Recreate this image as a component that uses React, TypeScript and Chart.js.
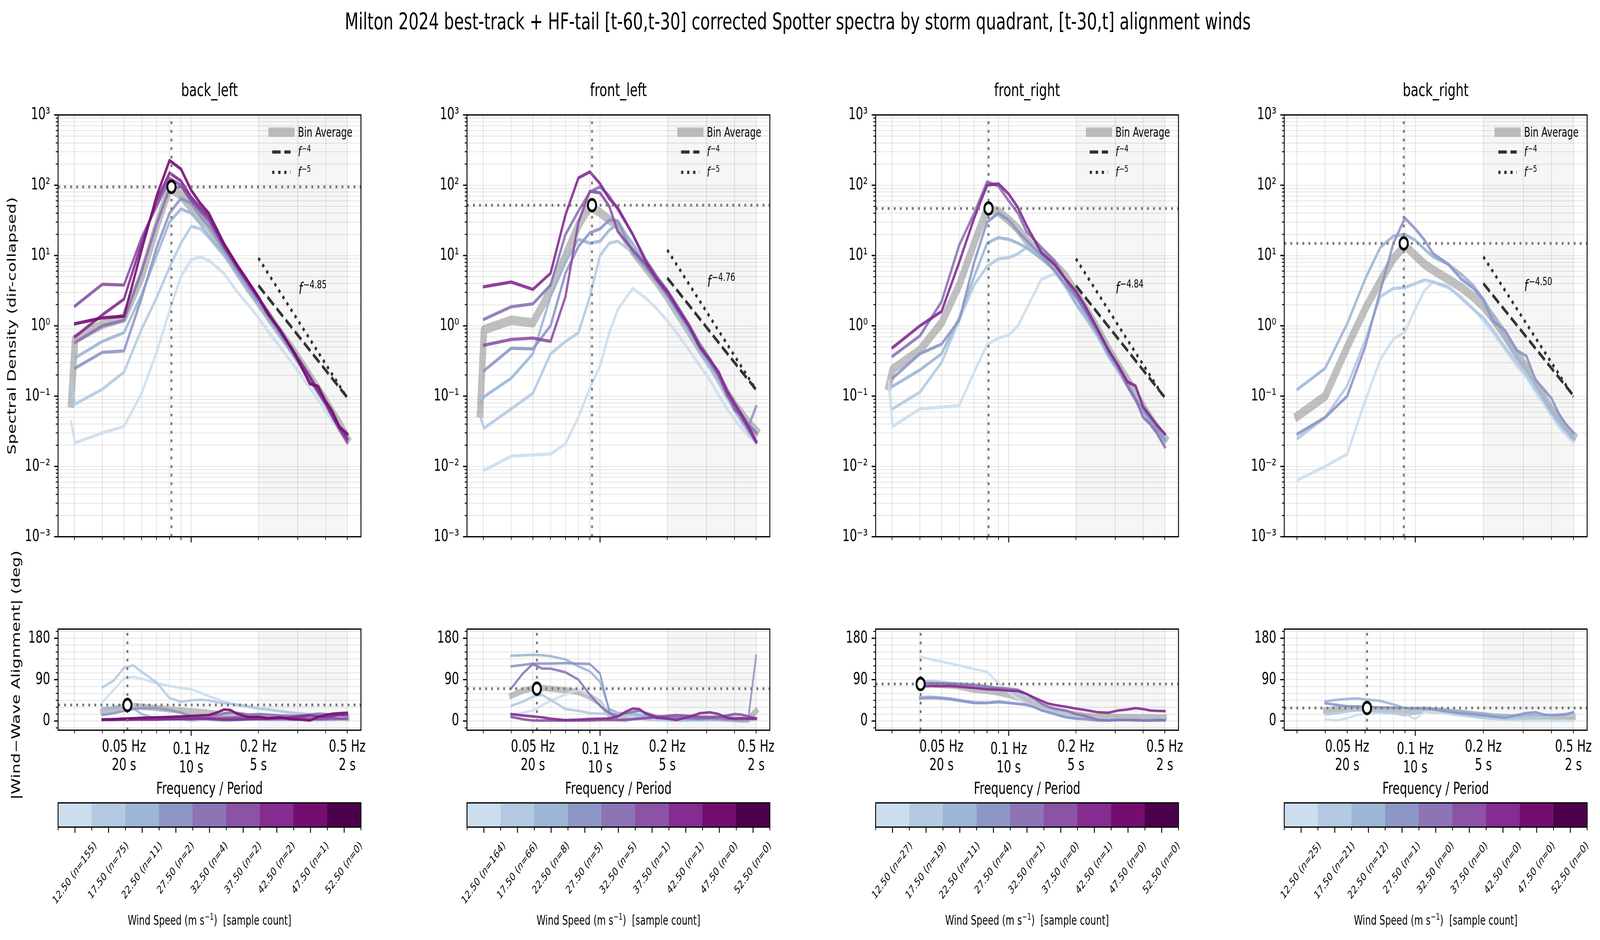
import React, { useEffect, useRef } from 'react';
import { Chart, registerables } from 'chart.js';

Chart.register(...registerables);

const FONT = "'DejaVu Sans', 'Liberation Sans', sans-serif";
Chart.defaults.font.family = FONT;
Chart.defaults.color = '#000';

// ---------------- frequency grids (Hz) ----------------
const FREQ = [0.029, 0.0302, 0.04, 0.05, 0.06, 0.07, 0.08, 0.09, 0.1, 0.11, 0.12, 0.14, 0.16, 0.18, 0.2, 0.22, 0.25, 0.28, 0.31, 0.34, 0.37, 0.4, 0.43, 0.46, 0.5];
const FREQ_ALIGN = [0.04, 0.045, 0.05, 0.055, 0.06, 0.07, 0.08, 0.09, 0.1, 0.11, 0.12, 0.13, 0.14, 0.15, 0.16, 0.18, 0.2, 0.22, 0.25, 0.28, 0.31, 0.34, 0.37, 0.4, 0.43, 0.46, 0.5];

// ---------------- wind-speed bins ----------------
const WIND_BINS = [12.5, 17.5, 22.5, 27.5, 32.5, 37.5, 42.5, 47.5, 52.5];
const BIN_COLORS = ['#ccdeed', '#b3cae2', '#9cb6d6', '#8d97c6', '#8c74b5', '#8c52a5', '#842c90', '#750d70', '#4d004b'];

const QUADRANTS = ['back_left', 'front_left', 'front_right', 'back_right'];
const COUNTS_BACK_LEFT = [155, 75, 11, 2, 4, 2, 2, 1, 0];
const COUNTS_FRONT_LEFT = [164, 66, 8, 5, 5, 1, 1, 0, 0];
const COUNTS_FRONT_RIGHT = [27, 19, 11, 4, 1, 0, 1, 0, 0];
const COUNTS_BACK_RIGHT = [25, 21, 12, 1, 0, 0, 0, 0, 0];

// ---------------- spectra: back_left ----------------
const BL_SPEC_AVG = [0.08, 0.65, 1.05, 1.3, 5, 26, 92, 72, 48, 36, 26, 12, 6.2, 3.5, 2.2, 1.43, 0.8, 0.49, 0.3, 0.19, 0.125, 0.085, 0.057, 0.041, 0.025];
const BL_SPEC_12 = [0.043, 0.0216, 0.03, 0.037, 0.11, 0.42, 1.66, 5.0, 8.7, 9.6, 8.5, 5.6, 3.1, 2.0, 1.3, 0.85, 0.5, 0.31, 0.2, 0.13, 0.088, 0.061, 0.044, 0.032, 0.022];
const BL_SPEC_17 = [0.15, 0.077, 0.125, 0.22, 0.9, 2.5, 6.8, 15, 26, 24, 18, 10, 5.6, 3.4, 2.1, 1.3, 0.72, 0.42, 0.26, 0.165, 0.11, 0.075, 0.052, 0.036, 0.023];
const BL_SPEC_22 = [null, 0.35, 0.6, 0.8, 2.8, 10, 30, 46, 40, 28, 19, 10.5, 5.6, 3.3, 2.0, 1.3, 0.72, 0.42, 0.26, 0.17, 0.115, 0.078, 0.053, 0.037, 0.024];
const BL_SPEC_27 = [null, 0.25, 0.42, 0.44, 2.5, 13, 40, 65, 55, 36, 26, 12, 6.2, 3.6, 2.2, 1.4, 0.78, 0.45, 0.28, 0.18, 0.12, 0.08, 0.055, 0.038, 0.025];
const BL_SPEC_32 = [null, 0.58, 1.0, 1.2, 6, 28, 90, 95, 62, 42, 31, 13, 6.8, 3.9, 2.4, 1.5, 0.82, 0.47, 0.28, 0.18, 0.118, 0.08, 0.055, 0.038, 0.024];
const BL_SPEC_37 = [null, 1.92, 3.9, 3.8, 18, 50, 125, 100, 60, 44, 33, 13.5, 7, 4.0, 2.45, 1.55, 0.84, 0.48, 0.29, 0.18, 0.115, 0.078, 0.05, 0.034, 0.022];
const BL_SPEC_42 = [null, 0.7, 1.43, 2.4, 15, 60, 150, 115, 68, 48, 36, 14, 7.2, 4.2, 2.5, 1.6, 0.85, 0.5, 0.3, 0.19, 0.12, 0.08, 0.052, 0.036, 0.025];
const BL_SPEC_47 = [null, 1.07, 1.3, 1.37, 12, 70, 225, 170, 85, 55, 40, 15, 7.5, 4.3, 2.6, 1.5, 0.88, 0.49, 0.27, 0.15, 0.138, 0.085, 0.06, 0.037, 0.029];

// ---------------- spectra: front_left ----------------
const FL_SPEC_AVG = [0.058, 0.88, 1.2, 1.1, 3.2, 10, 27, 50, 41, 32, 27, 11.7, 6.8, 4.2, 2.6, 1.6, 0.85, 0.47, 0.29, 0.18, 0.11, 0.075, 0.056, 0.042, 0.032];
const FL_SPEC_12 = [null, 0.0088, 0.014, 0.0146, 0.015, 0.021, 0.05, 0.13, 0.27, 0.8, 1.7, 3.4, 2.5, 1.74, 1.18, 0.8, 0.45, 0.27, 0.17, 0.103, 0.066, 0.047, 0.035, 0.027, 0.022];
const FL_SPEC_17 = [0.052, 0.035, 0.066, 0.11, 0.4, 0.6, 0.8, 2.6, 10, 15, 16, 11, 6.8, 4.2, 2.5, 1.55, 0.8, 0.42, 0.25, 0.16, 0.095, 0.062, 0.043, 0.031, 0.022];
const FL_SPEC_22 = [0.078, 0.098, 0.18, 0.4, 2.6, 8, 17, 15, 16, 23, 28, 15, 7.5, 4.2, 2.6, 1.6, 0.85, 0.44, 0.27, 0.17, 0.1, 0.065, 0.045, 0.032, 0.022];
const FL_SPEC_27 = [null, 0.23, 0.48, 0.47, 1.0, 5.6, 13.5, 21, 24, 32, 31, 11, 6.8, 4.2, 2.7, 1.7, 0.9, 0.48, 0.3, 0.19, 0.11, 0.07, 0.05, 0.036, 0.071];
const FL_SPEC_32 = [null, 1.24, 1.87, 2.05, 3.8, 20, 43, 80, 95, 70, 45, 20, 8.8, 5, 3.2, 2.0, 1.05, 0.55, 0.34, 0.21, 0.12, 0.063, 0.055, 0.04, 0.03];
const FL_SPEC_37 = [null, 0.53, 0.64, 0.67, 0.6, 2.6, 30, 82, 78, 50, 22, 12, 7.5, 4.5, 2.9, 1.8, 0.98, 0.5, 0.32, 0.2, 0.105, 0.072, 0.05, 0.035, 0.022];
const FL_SPEC_42 = [null, 3.6, 4.2, 3.3, 5.6, 38, 127, 155, 105, 64, 48, 20, 8.3, 4.6, 3.1, 1.9, 1.0, 0.5, 0.33, 0.22, 0.12, 0.08, 0.055, 0.038, 0.023];

// ---------------- spectra: front_right ----------------
const FR_SPEC_AVG = [0.14, 0.24, 0.45, 1.1, 3.8, 15, 46, 42, 32, 24, 16.5, 10, 7.5, 5.1, 2.9, 1.8, 0.9, 0.46, 0.27, 0.17, 0.105, 0.07, 0.048, 0.035, 0.025];
const FR_SPEC_12 = [0.16, 0.037, 0.066, 0.07, 0.073, 0.22, 0.54, 0.67, 0.74, 1.0, 1.74, 4.6, 5.5, 4.2, 2.6, 1.5, 0.7, 0.4, 0.24, 0.15, 0.095, 0.065, 0.045, 0.033, 0.022];
const FR_SPEC_17 = [null, 0.066, 0.114, 0.3, 1.2, 3.8, 7, 9, 9.3, 10.6, 13, 10, 6, 3.5, 2.0, 1.3, 0.7, 0.36, 0.22, 0.135, 0.085, 0.058, 0.042, 0.031, 0.022];
const FR_SPEC_22 = [null, 0.138, 0.236, 0.4, 1.3, 5, 15, 18, 17, 15, 13, 9, 6.2, 3.8, 2.1, 1.4, 0.75, 0.38, 0.23, 0.14, 0.09, 0.06, 0.045, 0.033, 0.023];
const FR_SPEC_27 = [null, 0.18, 0.4, 0.55, 1.2, 8, 30, 40, 32, 22, 16.5, 10, 6.2, 3.8, 2.6, 1.6, 0.8, 0.4, 0.25, 0.15, 0.093, 0.063, 0.047, 0.035, 0.024];
const FR_SPEC_32 = [null, 0.37, 0.72, 2.2, 14, 40, 112, 97, 60, 40, 22, 13, 8.5, 4.5, 2.7, 1.7, 0.85, 0.45, 0.26, 0.14, 0.09, 0.05, 0.04, 0.03, 0.019];
const FR_SPEC_42 = [null, 0.49, 1.0, 1.6, 8, 34, 100, 105, 75, 48, 27, 11, 7.5, 4.6, 3.1, 1.9, 0.9, 0.45, 0.27, 0.16, 0.14, 0.07, 0.052, 0.039, 0.029];

// ---------------- spectra: back_right ----------------
const BR_SPEC_AVG = [null, 0.052, 0.1, 0.5, 1.74, 4.3, 9, 14, 10, 7.5, 6.2, 4.6, 3.5, 2.6, 1.9, 1.3, 0.72, 0.4, 0.25, 0.15, 0.095, 0.063, 0.047, 0.035, 0.027];
const BR_SPEC_12 = [null, 0.0064, 0.01, 0.015, 0.085, 0.33, 0.65, 0.82, 1.74, 3.2, 4.2, 3.45, 2.6, 1.74, 1.18, 0.8, 0.45, 0.27, 0.185, 0.114, 0.077, 0.052, 0.037, 0.029, 0.022];
const BR_SPEC_17 = [null, 0.025, 0.05, 0.14, 0.62, 2.6, 3.4, 3.5, 4, 4.5, 4.2, 3.6, 2.45, 1.74, 1.3, 0.88, 0.49, 0.3, 0.2, 0.125, 0.085, 0.057, 0.04, 0.032, 0.024];
const BR_SPEC_22 = [null, 0.125, 0.25, 1.07, 4.6, 13, 19, 20, 16.5, 12.3, 9.6, 7.5, 5.4, 3.8, 2.4, 1.45, 0.68, 0.37, 0.24, 0.145, 0.093, 0.06, 0.045, 0.034, 0.025];
const BR_SPEC_27 = [null, 0.029, 0.05, 0.1, 0.5, 3.1, 15, 34, 24, 16.5, 10.6, 7.5, 4.6, 3.45, 2.33, 1.18, 0.85, 0.45, 0.37, 0.17, 0.125, 0.093, 0.057, 0.041, 0.03];

// ---------------- alignment (deg): back_left ----------------
const BL_ALIGN_AVG = [21, 26, 32, 33, 31, 28, 25, 23, 21, 20, 18, 16, 14, 13, 12, 10, 9, 8, 7.5, 7, 7, 7, 7.5, 8, 8, 8, 7];
const BL_ALIGN_12 = [41, 68, 92, 96, 92, 82, 76, 72, 69, 62, 54, 48, 42, 39, 36, 33, 28, 26, 22, 19, 17, 15, 13.5, 12, 11.5, 10.5, 9];
const BL_ALIGN_17 = [73, 88, 116, 121, 107, 84, 50, 42, 45, 46, 45, 41, 39, 37, 35, 31, 27, 25, 21, 18, 16, 14, 12, 11, 10, 9, 8];
const BL_ALIGN_22 = [28, 29, 30, 28, 15, 5, 3, 4, 1, 3, 4, 2, 1, 1, 2, 3, 4, 3, 3, 2, 3, 2, 2, 3, 2, 3, 4];
const BL_ALIGN_27 = [13, 17, 22, 26, 28, 28, 24, 18, 11, 6, 3, 2, 2, 3, 4, 5, 4, 3, 3, 4, 5, 4, 4, 3, 4, 5, 4];
const BL_ALIGN_32 = [4, 4, 5, 6, 6, 7, 8, 8, 9, 9, 10, 12, 16, 19, 18, 14, 15, 14, 12, 11, 12, 14, 16, 15, 14, 13, 11];
const BL_ALIGN_37 = [2, 2, 3, 3, 4, 4, 5, 5, 6, 6, 6, 6, 7, 7, 8, 8, 9, 7, 6, 5, 6, 5, 4, 5, 6, 5, 5];
const BL_ALIGN_42 = [3, 3, 3, 3, 3, 3, 4, 4, 4, 5, 5, 4, 3, 3, 3, 4, 4, 5, 6, 8, 10, 12, 10, 9, 11, 13, 14];
const BL_ALIGN_47 = [3, 4, 5, 6, 7, 8, 9, 10, 11, 12, 13, 18, 25, 24, 16, 8.5, 9, 6, 8, 4, 3, 1, 9, 13, 16, 17, 18];

// ---------------- alignment (deg): front_left ----------------
const FL_ALIGN_AVG = [55, 66, 71, 72, 70, 67, 63, 53, 39, 13, 8, 8, 8, 8, 8, 7, 6, 6, 6, 6, 6, 6, 5, 4, 3, 3, 22];
const FL_ALIGN_12 = [13, 18, 23, 34, 44, 58, 68, 56, 40, 22, 15, 12, 8, 5, 3, 2, 1, 1, 1, 2, 2, 2, 2, 3, 3, 3, 3];
const FL_ALIGN_17 = [33, 42, 53, 57, 46, 26, 22, 17, 16, 15, 14, 13, 12, 9, 3, 2, 1, 1, 1, 2, 2, 3, 3, 4, 3, 2, 3];
const FL_ALIGN_22 = [142, 143, 144, 143, 141, 134, 119, 108, 85, 26, 18, 17, 16, 14, 12, 8, 5, 4, 3, 2, 3, 3, 2, 2, 3, 3, 4];
const FL_ALIGN_27 = [119, 122, 125, 125, 125, 126, 125, 124, 103, 20, 2, 1, 4, 6, 8, 7, 6, 8, 6, 5, 6, 4, 3, 3, 2, 2, 142];
const FL_ALIGN_32 = [71, 103, 124, 114, 114, 106, 90, 57, 33, 17, 11, 17, 20, 22, 18, 10, 7.5, 7, 6, 5, 6, 7, 5, 4, 4, 5, 6];
const FL_ALIGN_37 = [9, 4, 1, 1, 1, 1, 1, 1, 2, 2, 2, 3, 4, 5, 6, 9, 11, 13, 11, 9, 8, 9, 12, 15, 14, 10, 6];
const FL_ALIGN_42 = [15, 12, 10, 8, 5, 2, 3, 4.4, 5, 5.4, 10, 20, 27, 26, 16, 7, 5, 2, 9, 17, 19, 15, 7, 5, 6, 5, 5];

// ---------------- alignment (deg): front_right ----------------
const FR_ALIGN_AVG = [81, 80, 78, 77, 75, 68, 65.5, 62, 56.5, 51, 46, 41, 33, 27, 23, 18, 14, 11.3, 8.8, 8.8, 8.5, 8.5, 8, 8, 8, 7.5, 7.5];
const FR_ALIGN_12 = [140, 134, 129, 125, 121, 113, 107, 82, 62, 48, 38, 31, 26, 21, 17, 12, 9, 7, 5, 4, 4, 4, 4, 4, 5, 5, 6];
const FR_ALIGN_17 = [86, 87, 85, 83, 82, 80, 76, 71, 67, 60, 52, 45, 38, 30, 24, 14, 9, 7, 5, 4, 4, 4, 5, 5, 5, 5, 5];
const FR_ALIGN_22 = [52, 53, 51, 49, 46, 41, 40, 43, 40, 38, 36, 31, 24, 20, 16.5, 9, 6, 5, 2, 3, 4, 4, 4, 3, 4, 4, 4];
const FR_ALIGN_27 = [49, 50, 49, 47, 44, 39, 39, 41, 39, 37, 35, 30, 23, 19, 15, 8, 5, 4, 1, 1, 2, 2, 1, 1, 1, 1, 1];
const FR_ALIGN_32 = [82, 82, 82, 81, 80, 78, 74.5, 72, 70.6, 68, 59, 49, 38, 31, 27, 23, 15, 11, 3, 1, 2, 2, 2, 1, 1, 2, 2];
const FR_ALIGN_42 = [75, 76, 76, 76, 74.5, 72, 69, 68, 66, 65, 59, 51, 44, 38, 35, 31, 27, 24, 19, 18, 23, 25, 28, 26, 23, 22, 21.5];

// ---------------- alignment (deg): back_right ----------------
const BR_ALIGN_AVG = [23, 26, 28, 28, 27, 23, 20.5, 17, 20.5, 24.4, 23, 22, 20.5, 19, 18, 15.3, 12.7, 10, 7.5, 6.2, 8, 8.8, 7.5, 6.2, 7, 8, 8.8];
const BR_ALIGN_12 = [3.6, 0.8, 6, 13, 16, 17.4, 16.6, 15, 4.4, 20, 20.5, 18, 15.3, 13, 11.4, 8.8, 6.2, 4.5, 2.3, 1.5, 1, 1, 1, 1, 0.5, 0.5, 0.3];
const BR_ALIGN_17 = [14, 17, 20.5, 23, 23, 20.5, 18, 16, 19, 25, 24, 21, 19, 16.5, 14, 10, 7.5, 5.4, 5, 5, 6, 7.5, 8.5, 10, 11, 12, 12.7];
const BR_ALIGN_22 = [43, 46, 48, 49, 47, 44, 36, 28, 27, 29, 27, 26, 24, 23, 21, 18, 15.3, 14, 12.7, 11.4, 14, 13, 13, 13, 14, 15, 18];
const BR_ALIGN_27 = [38.6, 35, 32, 31.5, 31, 29.6, 29, 28, 28, 27, 25.7, 23, 20.5, 18.5, 16.6, 14.8, 12.7, 10, 7, 12.7, 17.4, 19.2, 14, 13, 12.7, 14, 19];

// ---------------- per-panel markers & reference lines ----------------
const X_MIN = [0.02535, 0.02535, 0.02535, 0.02636];
const X_MAX = [0.576, 0.576, 0.576, 0.575];
const PEAK_F = [0.0816, 0.092, 0.0812, 0.0889];
const PEAK_E = [95, 52, 46.7, 14.9];
const ALIGN_PEAK_F = [0.0518, 0.0521, 0.0403, 0.0612];
const ALIGN_PEAK_DEG = [34.8, 70.3, 80.5, 28.3];
const REF_F = [0.2, 0.5];
const REF4_E = [[3.75, 0.096], [4.8, 0.123], [3.73, 0.096], [4.0, 0.102]];
const REF5_E = [[9.2, 0.094], [12.0, 0.123], [9.0, 0.092], [9.6, 0.098]];
const SLOPE_TEXT = ['\u22124.85', '\u22124.76', '\u22124.84', '\u22124.50'];
const SLOPE_LABEL_F = [0.303, 0.302, 0.301, 0.303];
const SLOPE_LABEL_E = [2.84, 3.6, 2.9, 3.13];

// ---------------- ticks ----------------
const X_TICKS = [0.03, 0.04, 0.05, 0.06, 0.07, 0.08, 0.09, 0.1, 0.2, 0.3, 0.4, 0.5];
const X_LABEL_VALUES = [0.05, 0.1, 0.2, 0.5];
const X_LABEL_HZ = ['0.05 Hz', '0.1 Hz', '0.2 Hz', '0.5 Hz'];
const X_LABEL_PERIOD = ['20 s', '10 s', '5 s', '2 s'];
const SPEC_Y_EXP = [-3, -2, -1, 0, 1, 2];
const ALIGN_Y_TICKS = [-15, 0, 15, 30, 45, 60, 75, 90, 105, 120, 135, 150, 165, 180, 195];
const ALIGN_Y_LABELED = [0, 90, 180];
const SHADE_F = [0.2, 0.5];

// ---------------- layout (px, design space 5838 x 2406) ----------------
const DESIGN_W = 5838, DESIGN_H = 2406;
const AX_LEFT = [212, 1704, 3195, 4686];
const AX_W = 1105;
const SPEC_TOP = 270, SPEC_H = 1128;
const AL_TOP = 1586, AL_H = 283;
const CB_TOP = 2055, CB_H = 62;

const AVG_COLOR = 'rgba(140,140,140,0.55)';
const PEAK_LINE_COLOR = '#7a7a7a';
const SHADE_COLOR = '#f6f6f6';
const GRID_X = 'rgba(0,0,0,0.12)';
const GRID_Y = 'rgba(0,0,0,0.085)';

const PANELS = [
  { counts: COUNTS_BACK_LEFT, specAvg: BL_SPEC_AVG, spec: [BL_SPEC_12, BL_SPEC_17, BL_SPEC_22, BL_SPEC_27, BL_SPEC_32, BL_SPEC_37, BL_SPEC_42, BL_SPEC_47], specBins: [0, 1, 2, 3, 4, 5, 6, 7],
    alignAvg: BL_ALIGN_AVG, align: [BL_ALIGN_12, BL_ALIGN_17, BL_ALIGN_22, BL_ALIGN_27, BL_ALIGN_32, BL_ALIGN_37, BL_ALIGN_42, BL_ALIGN_47], alignBins: [0, 1, 2, 3, 4, 5, 6, 7] },
  { counts: COUNTS_FRONT_LEFT, specAvg: FL_SPEC_AVG, spec: [FL_SPEC_12, FL_SPEC_17, FL_SPEC_22, FL_SPEC_27, FL_SPEC_32, FL_SPEC_37, FL_SPEC_42], specBins: [0, 1, 2, 3, 4, 5, 6],
    alignAvg: FL_ALIGN_AVG, align: [FL_ALIGN_12, FL_ALIGN_17, FL_ALIGN_22, FL_ALIGN_27, FL_ALIGN_32, FL_ALIGN_37, FL_ALIGN_42], alignBins: [0, 1, 2, 3, 4, 5, 6] },
  { counts: COUNTS_FRONT_RIGHT, specAvg: FR_SPEC_AVG, spec: [FR_SPEC_12, FR_SPEC_17, FR_SPEC_22, FR_SPEC_27, FR_SPEC_32, FR_SPEC_42], specBins: [0, 1, 2, 3, 4, 6],
    alignAvg: FR_ALIGN_AVG, align: [FR_ALIGN_12, FR_ALIGN_17, FR_ALIGN_22, FR_ALIGN_27, FR_ALIGN_32, FR_ALIGN_42], alignBins: [0, 1, 2, 3, 4, 6] },
  { counts: COUNTS_BACK_RIGHT, specAvg: BR_SPEC_AVG, spec: [BR_SPEC_12, BR_SPEC_17, BR_SPEC_22, BR_SPEC_27], specBins: [0, 1, 2, 3],
    alignAvg: BR_ALIGN_AVG, align: [BR_ALIGN_12, BR_ALIGN_17, BR_ALIGN_22, BR_ALIGN_27], alignBins: [0, 1, 2, 3] },
];

// ---------------- helpers ----------------
function rgba(hex: string, a: number) {
  const n = parseInt(hex.slice(1), 16);
  return `rgba(${(n >> 16) & 255},${(n >> 8) & 255},${n & 255},${a})`;
}
function pts(xs: number[], ys: (number | null)[]) {
  const out: any[] = [];
  for (let i = 0; i < xs.length; i++) if (ys[i] !== null && ys[i] !== undefined) out.push({ x: xs[i], y: ys[i] });
  return out;
}
const SUP: any = { '-': '\u207b', '0': '\u2070', '1': '\u00b9', '2': '\u00b2', '3': '\u00b3' };
function isDecade(v: number) {
  const l = Math.log10(v);
  return Math.abs(l - Math.round(l)) < 1e-6;
}
function decadeLabel(v: number) {
  if (!isDecade(v)) return '';
  const e = Math.round(Math.log10(v));
  return '10' + String(e).split('').map((c) => SUP[c]).join('');
}
function specYTicks() {
  const t: number[] = [];
  for (const e of SPEC_Y_EXP) for (let k = 1; k <= 9; k++) t.push(k * Math.pow(10, e));
  t.push(1000);
  return t;
}
const SPEC_Y_TICKS = specYTicks();
const near = (a: number, b: number) => Math.abs(a - b) < 1e-9 * Math.max(1, Math.abs(b));

function drawPow(ctx: any, x: number, yBase: number, sup: string, size: number) {
  ctx.textAlign = 'left';
  ctx.textBaseline = 'alphabetic';
  ctx.font = `italic ${size}px ${FONT}`;
  ctx.fillText('f', x, yBase);
  const w = ctx.measureText('f').width;
  ctx.font = `${Math.round(size * 0.7)}px ${FONT}`;
  ctx.fillText(sup, x + w + size * 0.06, yBase - size * 0.37);
}

function decorPlugin(opts: any) {
  return {
    id: 'decor',
    beforeDraw(chart: any) {
      const { ctx, chartArea: a, scales } = chart;
      const x0 = scales.x.getPixelForValue(SHADE_F[0]);
      const x1 = scales.x.getPixelForValue(SHADE_F[1]);
      ctx.save();
      ctx.fillStyle = SHADE_COLOR;
      ctx.fillRect(x0, a.top, x1 - x0, a.bottom - a.top);
      ctx.restore();
    },
    afterDraw(chart: any) {
      const { ctx, chartArea: a, scales } = chart;
      const x = scales.x, y = scales.y;
      ctx.save();
      ctx.strokeStyle = '#000';
      ctx.lineCap = 'butt';
      ctx.setLineDash([]);
      for (const v of X_TICKS) {
        const px = x.getPixelForValue(v);
        const maj = near(v, 0.1);
        ctx.lineWidth = maj ? 3.3 : 2.5;
        ctx.beginPath();
        ctx.moveTo(px, a.bottom);
        ctx.lineTo(px, a.bottom + (maj ? 14.6 : 8.3));
        ctx.stroke();
      }
      for (const v of opts.yTicks) {
        const py = y.getPixelForValue(v);
        if (py < a.top - 1 || py > a.bottom + 1) continue;
        const maj = opts.yMajor(v);
        ctx.lineWidth = maj ? 3.3 : 2.5;
        ctx.beginPath();
        ctx.moveTo(a.left, py);
        ctx.lineTo(a.left - (maj ? 14.6 : 8.3), py);
        ctx.stroke();
      }
      ctx.lineWidth = 3.3;
      ctx.strokeRect(a.left, a.top, a.right - a.left, a.bottom - a.top);

      if (opts.xLabels) {
        ctx.fillStyle = '#000';
        ctx.font = `42px ${FONT}`;
        ctx.textAlign = 'center';
        ctx.textBaseline = 'alphabetic';
        X_LABEL_VALUES.forEach((v, i) => {
          const px = x.getPixelForValue(v);
          const off = near(v, 0.1) ? 6.3 : 0;
          ctx.fillText(X_LABEL_HZ[i], px, a.bottom + 55 + off);
          ctx.fillText(X_LABEL_PERIOD[i], px, a.bottom + 102 + off);
        });
      }

      if (opts.legend) {
        const R = a.right, T = a.top;
        ctx.strokeStyle = AVG_COLOR;
        ctx.lineWidth = 24;
        ctx.lineCap = 'square';
        ctx.beginPath(); ctx.moveTo(R - 326, T + 44); ctx.lineTo(R - 254, T + 44); ctx.stroke();
        ctx.lineCap = 'butt';
        ctx.strokeStyle = '#333333';
        ctx.lineWidth = 8.3;
        ctx.setLineDash([31, 13.4]);
        ctx.beginPath(); ctx.moveTo(R - 324, T + 95); ctx.lineTo(R - 257, T + 95); ctx.stroke();
        ctx.setLineDash([8.3, 13.7]);
        ctx.beginPath(); ctx.moveTo(R - 324, T + 147); ctx.lineTo(R - 257, T + 147); ctx.stroke();
        ctx.setLineDash([]);
        ctx.fillStyle = '#000';
        ctx.font = `33px ${FONT}`;
        ctx.textAlign = 'left';
        ctx.textBaseline = 'alphabetic';
        ctx.fillText('Bin Average', R - 230, T + 56);
        drawPow(ctx, R - 230, T + 106, '\u22124', 33);
        drawPow(ctx, R - 230, T + 158, '\u22125', 33);
      }
      if (opts.slope) {
        const p = opts.panel;
        ctx.fillStyle = '#000';
        drawPow(ctx, x.getPixelForValue(SLOPE_LABEL_F[p]), y.getPixelForValue(SLOPE_LABEL_E[p]), SLOPE_TEXT[p], 40);
      }
      ctx.restore();
    },
  };
}

function baseOptions(padTop: number, padRight: number) {
  return {
    responsive: false,
    maintainAspectRatio: false,
    animation: false,
    devicePixelRatio: 1,
    events: [],
    layout: { padding: { top: padTop, right: padRight, left: 0, bottom: 0 }, autoPadding: false },
    plugins: { legend: { display: false }, tooltip: { enabled: false }, title: { display: false } },
  };
}

function markerSet(fx: number, fy: number) {
  return { data: [{ x: fx, y: fy }], showLine: false, pointRadius: 15, pointBorderWidth: 7, pointBackgroundColor: '#ffffff', pointBorderColor: '#000000', order: 0 };
}
function dottedSet(data: any[]) {
  return { data, borderColor: PEAK_LINE_COLOR, borderWidth: 7, borderDash: [7, 15], pointRadius: 0, order: 5 };
}

function spectralConfig(p: number) {
  const P = PANELS[p];
  const datasets: any[] = [];
  datasets.push({ data: pts(FREQ, P.specAvg), borderColor: AVG_COLOR, borderWidth: 24, borderCapStyle: 'square', borderJoinStyle: 'round', pointRadius: 0, order: 100 });
  P.spec.forEach((vals: any, k: number) => {
    const bin = P.specBins[k];
    datasets.push({ data: pts(FREQ, vals), borderColor: rgba(BIN_COLORS[bin], 0.9), borderWidth: 8.3, borderCapStyle: 'square', borderJoinStyle: 'round', pointRadius: 0, order: 50 - bin });
  });
  datasets.push({ data: pts(REF_F, REF4_E[p]), borderColor: '#333333', borderWidth: 8.3, borderDash: [31, 13.4], pointRadius: 0, order: 4 });
  datasets.push({ data: pts(REF_F, REF5_E[p]), borderColor: '#333333', borderWidth: 8.3, borderDash: [8.3, 13.7], pointRadius: 0, order: 4 });
  datasets.push(dottedSet([{ x: PEAK_F[p], y: 1e-3 }, { x: PEAK_F[p], y: 1e3 }]));
  datasets.push(dottedSet([{ x: X_MIN[p], y: PEAK_E[p] }, { x: X_MAX[p], y: PEAK_E[p] }]));
  datasets.push(markerSet(PEAK_F[p], PEAK_E[p]));
  return {
    type: 'line',
    data: { datasets },
    options: {
      ...baseOptions(30, 30),
      scales: {
        x: {
          type: 'logarithmic', min: X_MIN[p], max: X_MAX[p],
          afterBuildTicks: (s: any) => { s.ticks = X_TICKS.map((v) => ({ value: v })); },
          afterFit: (s: any) => { s.height = 30; },
          ticks: { display: false },
          grid: { color: GRID_X, lineWidth: 2.5, drawTicks: false },
          border: { display: false },
        },
        y: {
          type: 'logarithmic', min: 1e-3, max: 1e3,
          afterBuildTicks: (s: any) => { s.ticks = SPEC_Y_TICKS.map((v) => ({ value: v })); },
          afterFit: (s: any) => { s.width = 200; },
          ticks: { callback: (v: number) => decadeLabel(v), font: { size: 42, family: FONT }, padding: 29, color: '#000', autoSkip: false },
          grid: { color: GRID_Y, lineWidth: 2.5, drawTicks: false },
          border: { display: false },
        },
      },
    },
    plugins: [decorPlugin({ yTicks: SPEC_Y_TICKS, yMajor: isDecade, legend: true, panel: p, slope: true })],
  };
}

function alignConfig(p: number) {
  const P = PANELS[p];
  const datasets: any[] = [];
  datasets.push({ data: pts(FREQ_ALIGN, P.alignAvg), borderColor: AVG_COLOR, borderWidth: 16, borderCapStyle: 'square', borderJoinStyle: 'round', pointRadius: 0, order: 100 });
  P.align.forEach((vals: any, k: number) => {
    const bin = P.alignBins[k];
    datasets.push({ data: pts(FREQ_ALIGN, vals), borderColor: rgba(BIN_COLORS[bin], 0.9), borderWidth: 6.5, borderCapStyle: 'square', borderJoinStyle: 'round', pointRadius: 0, order: 50 - bin });
  });
  datasets.push(dottedSet([{ x: ALIGN_PEAK_F[p], y: -20 }, { x: ALIGN_PEAK_F[p], y: 200 }]));
  datasets.push(dottedSet([{ x: X_MIN[p], y: ALIGN_PEAK_DEG[p] }, { x: X_MAX[p], y: ALIGN_PEAK_DEG[p] }]));
  datasets.push(markerSet(ALIGN_PEAK_F[p], ALIGN_PEAK_DEG[p]));
  return {
    type: 'line',
    data: { datasets },
    options: {
      ...baseOptions(30, 60),
      scales: {
        x: {
          type: 'logarithmic', min: X_MIN[p], max: X_MAX[p],
          afterBuildTicks: (s: any) => { s.ticks = X_TICKS.map((v) => ({ value: v })); },
          afterFit: (s: any) => { s.height = 140; },
          ticks: { display: false },
          grid: { color: GRID_X, lineWidth: 2.5, drawTicks: false },
          border: { display: false },
        },
        y: {
          type: 'linear', min: -20, max: 200,
          afterBuildTicks: (s: any) => { s.ticks = ALIGN_Y_TICKS.map((v) => ({ value: v })); },
          afterFit: (s: any) => { s.width = 200; },
          ticks: { autoSkip: false, padding: 29, color: '#000', font: { size: 42, family: FONT }, callback: (v: number) => (ALIGN_Y_LABELED.includes(v) ? String(v) : '') },
          grid: { color: GRID_Y, lineWidth: 2.5, drawTicks: false },
          border: { display: false },
        },
      },
    },
    plugins: [decorPlugin({ yTicks: ALIGN_Y_TICKS, yMajor: (v: number) => ALIGN_Y_LABELED.includes(v), panel: p, xLabels: true })],
  };
}

const CB_PAD_LEFT = 100, CB_PAD_RIGHT = 150, CB_PAD_TOP = 10, CB_CANVAS_H = 300;

function colorbarConfig(p: number) {
  const counts = PANELS[p].counts;
  return {
    type: 'bar',
    data: {
      labels: WIND_BINS.map((w) => w.toFixed(2)),
      datasets: [{ data: WIND_BINS.map(() => 1), backgroundColor: BIN_COLORS, borderWidth: 0, barPercentage: 1, categoryPercentage: 1 }],
    },
    options: {
      responsive: false, maintainAspectRatio: false, animation: false, devicePixelRatio: 1, events: [],
      layout: { padding: { left: CB_PAD_LEFT, right: CB_PAD_RIGHT, top: CB_PAD_TOP, bottom: CB_CANVAS_H - CB_PAD_TOP - CB_H }, autoPadding: false },
      plugins: { legend: { display: false }, tooltip: { enabled: false } },
      scales: { x: { display: false, offset: true }, y: { display: false, min: 0, max: 1 } },
    },
    plugins: [{
      id: 'cbdecor',
      afterDraw(chart: any) {
        const { ctx, chartArea: a, scales } = chart;
        const x = scales.x;
        const half = (a.right - a.left) / WIND_BINS.length / 2;
        ctx.save();
        ctx.strokeStyle = '#000';
        for (let i = 0; i < WIND_BINS.length; i++) {
          const cx = x.getPixelForValue(i);
          ctx.lineWidth = 3.3;
          ctx.beginPath(); ctx.moveTo(cx, a.bottom); ctx.lineTo(cx, a.bottom + 14.6); ctx.stroke();
          ctx.lineWidth = 2.5;
          for (const ex of [cx - half, cx + half]) {
            ctx.beginPath(); ctx.moveTo(ex, a.bottom); ctx.lineTo(ex, a.bottom + 8.3); ctx.stroke();
          }
        }
        ctx.lineWidth = 3.3;
        ctx.strokeRect(a.left, a.top, a.right - a.left, a.bottom - a.top);
        const S = 29;
        ctx.fillStyle = '#000';
        for (let i = 0; i < WIND_BINS.length; i++) {
          const cx = x.getPixelForValue(i);
          const parts = [
            { t: WIND_BINS[i].toFixed(2) + ' (', it: false },
            { t: 'n', it: true },
            { t: '=' + counts[i] + ')', it: false },
          ];
          let L = 0;
          const ws = parts.map((pt) => {
            ctx.font = `${pt.it ? 'italic ' : ''}${S}px ${FONT}`;
            const w = ctx.measureText(pt.t).width;
            L += w;
            return w;
          });
          const bb = (L + 0.9 * S) * Math.SQRT1_2;
          const cy = a.bottom + 34 + bb / 2;
          ctx.save();
          ctx.translate(cx, cy);
          ctx.rotate(-Math.PI / 4);
          ctx.textAlign = 'left';
          ctx.textBaseline = 'middle';
          let xx = -L / 2;
          parts.forEach((pt, k) => {
            ctx.font = `${pt.it ? 'italic ' : ''}${S}px ${FONT}`;
            ctx.fillText(pt.t, xx, 0);
            xx += ws[k];
          });
          ctx.restore();
        }
        ctx.restore();
      },
    }],
  };
}

function ChartCanvas({ left, top, width, height, build }: any) {
  const ref = useRef<HTMLCanvasElement>(null);
  useEffect(() => {
    const chart = new Chart(ref.current as any, build() as any);
    return () => chart.destroy();
  }, []);
  return <canvas ref={ref} width={width} height={height} style={{ position: 'absolute', left, top, width, height }} />;
}

function Text({ cx, top, size, children }: any) {
  const W = 4000;
  const style: any = {
    position: 'absolute', left: cx - W / 2, top, width: W, height: size, lineHeight: `${size}px`,
    fontSize: size, fontFamily: FONT, color: '#000', textAlign: 'center', whiteSpace: 'pre',
  };
  return <div style={style}>{children}</div>;
}

export default function App() {
  // The browser window may be narrower than the design (it is clamped); fit the
  // 5838 x 2406 design into whatever viewport we actually get.
  const vw = typeof window !== 'undefined' ? (window.innerWidth || DESIGN_W) : DESIGN_W;
  const vh = typeof window !== 'undefined' ? (window.innerHeight || DESIGN_H) : DESIGN_H;
  const sx = vw / DESIGN_W;
  const sy = vh / DESIGN_H;
  useEffect(() => {
    document.body.style.margin = '0';
    document.body.style.overflow = 'hidden';
    document.documentElement.style.overflow = 'hidden';
  }, []);
  return (
    <div style={{ position: 'absolute', left: 0, top: 0, width: vw, height: vh, overflow: 'hidden', background: '#fff' }}>
      <div style={{ position: 'absolute', left: 0, top: 0, width: DESIGN_W, height: DESIGN_H, transform: `scale(${sx}, ${sy})`, transformOrigin: '0 0' }}>
        {QUADRANTS.map((q, p) => (
          <React.Fragment key={q}>
            <ChartCanvas left={AX_LEFT[p] - 200} top={SPEC_TOP - 30} width={200 + AX_W + 30} height={30 + SPEC_H + 30} build={() => spectralConfig(p)} />
            <ChartCanvas left={AX_LEFT[p] - 200} top={AL_TOP - 30} width={200 + AX_W + 60} height={30 + AL_H + 140} build={() => alignConfig(p)} />
            <ChartCanvas left={AX_LEFT[p] - CB_PAD_LEFT} top={CB_TOP - CB_PAD_TOP} width={CB_PAD_LEFT + AX_W + CB_PAD_RIGHT} height={CB_CANVAS_H} build={() => colorbarConfig(p)} />
          </React.Fragment>
        ))}
        <Text cx={2911} top={26} size={58}>Milton 2024 best-track + HF-tail [t-60,t-30] corrected Spotter spectra by storm quadrant, [t-30,t] alignment winds</Text>
        {QUADRANTS.map((q, p) => (
          <React.Fragment key={'t' + q}>
            <Text cx={AX_LEFT[p] + AX_W / 2} top={207} size={46}>{q}</Text>
            <Text cx={AX_LEFT[p] + AX_W / 2} top={1997} size={42}>Frequency / Period</Text>
            <Text cx={AX_LEFT[p] + AX_W / 2} top={2339} size={33}>
              {'Wind Speed (m s'}
              <span style={{ fontSize: 23, position: 'relative', top: -13, lineHeight: 0 }}>{'\u22121'}</span>
              {')  [sample count]'}
            </Text>
          </React.Fragment>
        ))}
        <div style={{ position: 'absolute', left: 44 - 500, top: (SPEC_TOP + SPEC_H / 2) - 21, width: 1000, height: 42, lineHeight: '42px', fontSize: 42, fontFamily: FONT, textAlign: 'center', transform: 'rotate(-90deg)', whiteSpace: 'pre' }}>Spectral Density (dir-collapsed)</div>
        <div style={{ position: 'absolute', left: 59 - 500, top: (AL_TOP + AL_H / 2) - 21, width: 1000, height: 42, lineHeight: '42px', fontSize: 42, fontFamily: FONT, textAlign: 'center', transform: 'rotate(-90deg)', whiteSpace: 'pre' }}>{'|Wind\u2212Wave Alignment| (deg)'}</div>
      </div>
    </div>
  );
}
